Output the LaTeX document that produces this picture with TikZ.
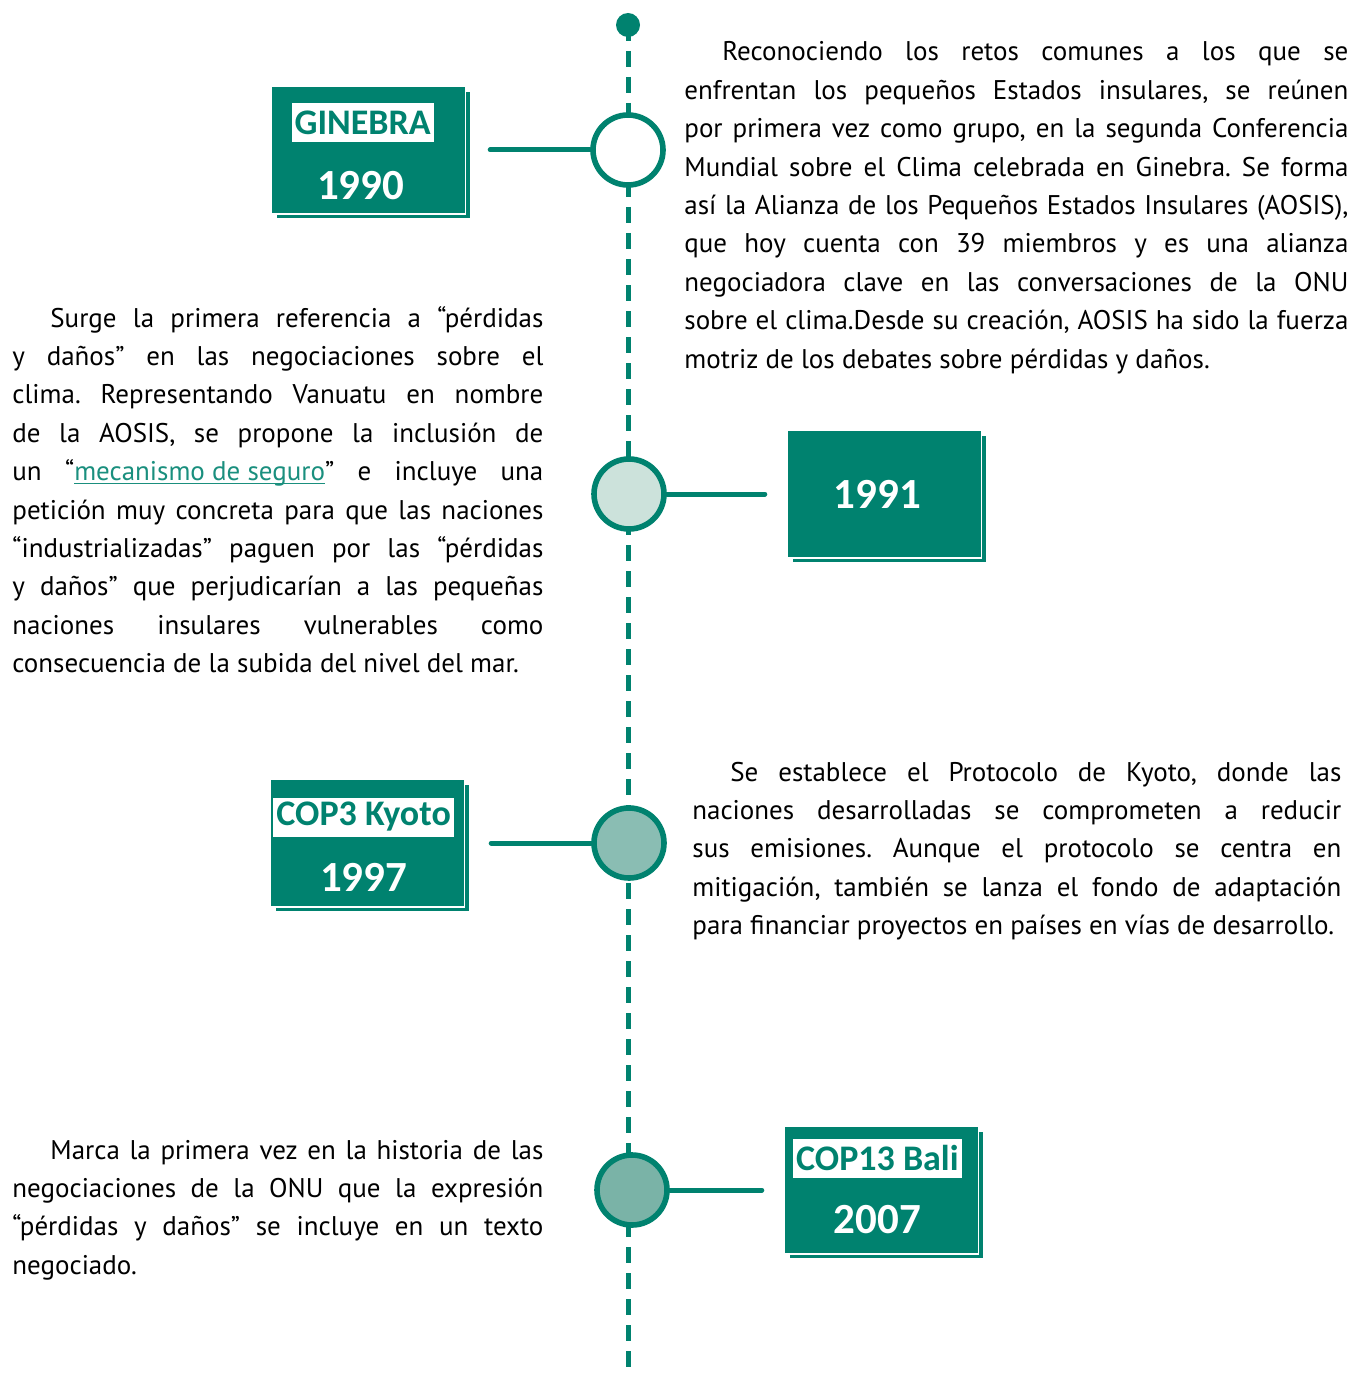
\documentclass[tikz,border=0pt]{standalone}
\usepackage{fontspec}
\setmainfont{PT Sans}
\newfontfamily\tagfont{Carlito}
\usepackage{tikz}
\usetikzlibrary{positioning,shadows}
\definecolor{kyotogreen}{HTML}{00826F}
\definecolor{palegreen}{HTML}{CCE2DB}
\definecolor{midgreen}{HTML}{8ABDB3}
\definecolor{deepgreen}{HTML}{7AB3A7}
\definecolor{linkgreen}{HTML}{1A8F7E}
\hyphenpenalty=10000
\frenchspacing

\begin{document}
\begin{tikzpicture}[x=0.5pt,y=-0.5pt,
    timeline/.style={draw=kyotogreen, line width=2.5pt, dash pattern=on 8pt off 5pt},
    event/.style={circle, draw=kyotogreen, line width=2.8pt, minimum size=35pt, inner sep=0pt},
    branch/.style={draw=kyotogreen, line width=2.5pt, line cap=round},
    yearbox/.style={rectangle, fill=kyotogreen, draw=white, line width=0.6pt, minimum width=97pt, minimum height=64pt, inner sep=0pt,
        copy shadow={shadow xshift=2.5pt, shadow yshift=-2.5pt}},
    tag/.style={fill=white, text=kyotogreen, font=\tagfont\fontsize{18}{18}\selectfont\bfseries, inner xsep=1.5pt, inner ysep=0pt, minimum height=19.5pt},
    year/.style={text=white, font=\tagfont\fontsize{21.5}{22}\selectfont\bfseries, inner sep=0pt},
    para/.style={anchor=base west, inner sep=0pt, align=justify, font=\fontsize{13.5}{19.2}\selectfont}
]
    \useasboundingbox (0,0) rectangle (1354,1375);

    % line behind the events
    \coordinate (tl start) at (628,25);
    \coordinate (tl end) at (628,1378);
    \draw[timeline] (tl start) -- (tl end);
    \node[circle, fill=kyotogreen, minimum size=12pt, inner sep=0pt] (top) at (tl start) {};

    \node[event, fill=white] (c1990) at (628,150) {};
    \node[event, fill=palegreen] (c1991) at (629,494) {};
    \node[event, fill=midgreen] (c1997) at (629,843) {};
    \node[event, fill=deepgreen] (c2007) at (632,1190) {};

    \node[yearbox, left=62pt of c1990] (b1990) {};
    \node[yearbox, right=60pt of c1991] (b1991) {};
    \node[yearbox, left=63pt of c1997] (b1997) {};
    \node[yearbox, right=57pt of c2007] (b2007) {};

    \node[tag] (tag1990) at ([xshift=-3pt, yshift=13.5pt]b1990.center) {GINEBRA};
    \node[year] (y1990) at ([xshift=-4pt, yshift=-18pt]b1990.center) {1990};
    \node[year] (y1991) at ([xshift=-3.5pt]b1991.center) {1991};
    \node[tag] (tag1997) at ([xshift=-2pt, yshift=13pt]b1997.center) {COP3 Kyoto};
    \node[year] (y1997) at ([xshift=-2pt, yshift=-17pt]b1997.center) {1997};
    \node[tag] (tag2007) at ([xshift=-2pt, yshift=16pt]b2007.center) {COP13 Bali};
    \node[year] (y2007) at ([xshift=-2pt, yshift=-15pt]b2007.center) {2007};

    \draw[branch, shorten >=12pt] (c1990.west) -- (c1990 -| b1990.east);
    \draw[branch, shorten >=11pt] (c1991.east) -- (c1991 -| b1991.west);
    \draw[branch, shorten >=13pt] (c1997.west) -- (c1997 -| b1997.east);
    \draw[branch, shorten >=11pt] (c2007.east) -- (c2007 -| b2007.west);

    % texts
    \node[para, text width=332pt] (t1990) at (684,61) {\hspace*{19pt}Reconociendo los retos comunes a los que se\linebreak
        enfrentan los pequeños Estados insulares, se reúnen\linebreak
        por primera vez como grupo, en la segunda Conferencia\linebreak
        Mundial sobre el Clima celebrada en Ginebra. Se forma\linebreak
        así la Alianza de los Pequeños Estados Insulares (AOSIS),\linebreak
        que hoy cuenta con 39 miembros y es una alianza\linebreak
        negociadora clave en las conversaciones de la ONU\linebreak
        sobre el clima.Desde su creación, AOSIS ha sido la fuerza\linebreak
        motriz de los debates sobre pérdidas y daños.};
    \node[para, text width=265.5pt] (t1991) at (12,327) {\hspace*{19pt}Surge la primera referencia a “pérdidas\linebreak
        y daños” en las negociaciones sobre el\linebreak
        clima. Representando Vanuatu en nombre\linebreak
        de la AOSIS, se propone la inclusión de\linebreak
        un “\textcolor{linkgreen}{\underline{\smash{mecanismo de seguro}}}” e incluye una\linebreak
        petición muy concreta para que las naciones\linebreak
        “industrializadas” paguen por las “pérdidas\linebreak
        y daños” que perjudicarían a las pequeñas\linebreak
        naciones insulares vulnerables como\linebreak
        consecuencia de la subida del nivel del mar.};
    \node[para, text width=324.5pt] (t1997) at (692,781) {\hspace*{19pt}Se establece el Protocolo de Kyoto, donde las\linebreak
        naciones desarrolladas se comprometen a reducir\linebreak
        sus emisiones. Aunque el protocolo se centra en\linebreak
        mitigación, también se lanza el fondo de adaptación\linebreak
        para financiar proyectos en países en vías de desarrollo.};
    \node[para, text width=265.5pt] (t2007) at (12,1159) {\hspace*{19pt}Marca la primera vez en la historia de las\linebreak
        negociaciones de la ONU que la expresión\linebreak
        “pérdidas y daños” se incluye en un texto\linebreak
        negociado.};
\end{tikzpicture}
\end{document}
